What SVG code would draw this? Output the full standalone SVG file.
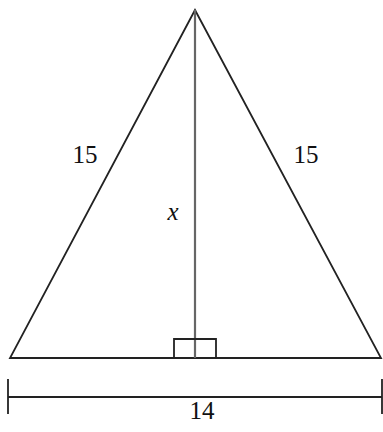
<svg xmlns="http://www.w3.org/2000/svg" width="383" height="432" viewBox="0 0 383 432">
<style>
.ln{stroke:#222;stroke-width:1.8;fill:none}
.alt{stroke:#666;stroke-width:2.2;fill:none}
.t{font-family:"Liberation Serif","Times New Roman",serif;font-size:25px;fill:#111}
</style>
<rect width="383" height="432" fill="#fff"/>
<g id="triangle">
<polygon class="ln" points="195,10 10,358 381,358"/>
</g>
<g id="connectors">
<line class="alt" x1="195" y1="10" x2="195" y2="358"/>
<polyline class="ln" points="174,358 174,339 216,339 216,358"/>
<line class="ln" x1="8" y1="397" x2="382" y2="397"/>
<line class="ln" x1="8" y1="379" x2="8" y2="414"/>
<line class="ln" x1="382" y1="379" x2="382" y2="414"/>
</g>
<g id="labels">
<text class="t" x="85" y="163" text-anchor="middle">15</text>
<text class="t" x="306" y="163" text-anchor="middle">15</text>
<text class="t" x="173" y="220" text-anchor="middle" font-style="italic">x</text>
<text class="t" x="202" y="419" text-anchor="middle">14</text>
</g>
</svg>
